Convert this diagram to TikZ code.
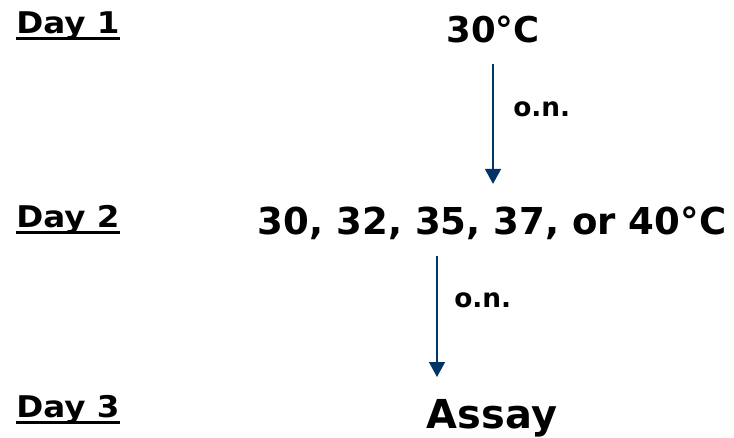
\documentclass[tikz,border=0pt]{standalone}
\usepackage{fontspec}
\setmainfont{DejaVu Sans}
\newfontfamily\dayfont[FakeStretch=1.09]{DejaVu Sans}
\usetikzlibrary{arrows.meta}
\definecolor{arrowblue}{RGB}{0,51,102}
\tikzset{
  daylbl/.style={anchor=base west, inner sep=0pt, font=\dayfont\fontsize{17}{20}\selectfont\bfseries},
  temp/.style={anchor=base, inner sep=0pt, font=\fontsize{20.2}{24}\selectfont\bfseries},
  onlbl/.style={anchor=base west, inner sep=0pt, font=\fontsize{15}{18}\selectfont\bfseries},
  flow/.style={draw=arrowblue, line width=1.1pt, -{Triangle[width=9pt,length=8.5pt]}, arrowblue},
  uline/.style={line width=1.7pt}
}
\begin{document}
\begin{tikzpicture}[x=0.02cm, y=-0.02cm]
\useasboundingbox (0,0) rectangle (734,437);
\node[daylbl] (day1) at (16,33){Day 1};
\node[daylbl] (day2) at (16,227){Day 2};
\node[daylbl] (day3) at (16,417){Day 3};
\draw[uline] ([yshift=-3.4pt]day1.base west) -- ([yshift=-3.4pt]day1.base east);
\draw[uline] ([yshift=-3.4pt]day2.base west) -- ([yshift=-3.4pt]day2.base east);
\draw[uline] ([yshift=-3.4pt]day3.base west) -- ([yshift=-3.4pt]day3.base east);
\node[temp] (t1) at (493,42){30°C};
\node[temp, font=\fontsize{21.1}{25}\selectfont\bfseries] (t2) at (492,234){30, 32, 35, 37, or 40°C};
\node[temp, font=\fontsize{22.7}{26}\selectfont\bfseries] (assay) at (492,428){Assay};
\coordinate (a2s) at (437,256);
\coordinate (a2e) at (437,377);
\draw[flow, shorten <=12pt, shorten >=12.5pt] (t1.south) -- (t1.south |- t2.north);
\draw[flow] (a2s) -- (a2e);
\node[onlbl] (on1) at (513,116){o.n.};
\node[onlbl] (on2) at (454,307){o.n.};
\end{tikzpicture}
\end{document}
